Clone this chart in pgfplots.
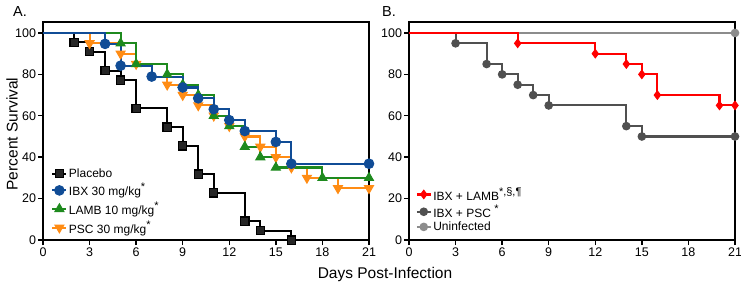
\documentclass[border=0pt]{standalone}
\usepackage{pgfplots}
\pgfplotsset{compat=1.18}
\usepackage{fontspec}
\setmainfont{Liberation Sans}
\definecolor{cblue}{RGB}{16,76,150}
\definecolor{cgreen}{RGB}{30,138,30}
\definecolor{corange}{RGB}{255,140,20}
\definecolor{cred}{RGB}{255,0,0}
\definecolor{cdgray}{RGB}{80,80,80}
\definecolor{clgray}{RGB}{140,140,140}
\newcommand{\supmark}[1]{\raisebox{0.42em}{\fontsize{11bp}{11bp}\selectfont #1}}
\pgfplotsset{
  km/.style={
    scale only axis, width=326bp, height=218bp,
    xmin=0, xmax=21, ymin=0, ymax=105.3,
    xtick={0,3,...,21}, ytick={0,20,...,100},
    tick align=outside, major tick length=5bp,
    xtick pos=bottom, ytick pos=left,
    axis line style={line width=1.4bp},
    every tick/.style={black, line width=1.4bp},
    tick label style={font=\fontsize{12.5bp}{14bp}\selectfont},
    /pgf/number format/assume math mode=true,
    xticklabel style={yshift=1bp},
    yticklabel style={xshift=1.5bp},
    clip=false,
    legend style={draw=none, fill=none, font=\fontsize{12bp}{14bp}\selectfont,
      row sep=0bp, inner sep=0pt, nodes={inner sep=1.5bp}},
    legend cell align=left,
    legend image code/.code={\draw[#1, mark repeat=2, mark phase=2] plot coordinates {(0bp,0bp)(7bp,0bp)(14bp,0bp)};},
  },
  lw/.style={line width=2.1bp},
}
\begin{document}
\begin{tikzpicture}
\useasboundingbox (0,0) rectangle (741bp,-286bp);
\node[anchor=base west, font=\fontsize{14.5bp}{16bp}\selectfont, inner sep=0pt] at (13bp,-16bp) {A.};
\node[anchor=base west, font=\fontsize{14.5bp}{16bp}\selectfont, inner sep=0pt] at (382bp,-16bp) {B.};
\node[rotate=90, font=\fontsize{15.5bp}{17bp}\selectfont, inner sep=0pt] at (12bp,-134bp) {Percent Survival};
\node[font=\fontsize{15.5bp}{17bp}\selectfont, inner sep=0pt] at (385bp,-274bp) {Days Post-Infection};
% Panel A
\begin{axis}[km, at={(43bp,-240bp)}, anchor=south west,
  legend style={at={(0.025,0.335)}, anchor=north west, row sep=1.5bp}]
\addlegendimage{black, lw, mark=square*, mark size=4.1bp, mark options={fill=black!85, line width=1.2bp}}
\addlegendentry{Placebo}
\addlegendimage{cblue, lw, mark=*, mark size=4.8bp, mark options={fill=cblue, line width=1bp}}
\addlegendentry{IBX 30 mg/kg\supmark{*}}
\addlegendimage{cgreen, lw, mark=triangle*, mark size=5.2bp, mark options={fill=cgreen, line width=1bp}}
\addlegendentry{LAMB 10 mg/kg\supmark{*}}
\addlegendimage{corange, lw, mark=triangle*, mark size=5.2bp, mark options={fill=corange, rotate=180, line width=1bp}}
\addlegendentry{PSC 30 mg/kg\supmark{*}}
\addplot[forget plot, const plot, black, lw, mark=square*, mark size=4.1bp, mark options={fill=black!85, line width=1.2bp},
  mark indices={2,3,4,5,6,7,8,9,10,11,12,13}] coordinates {
  (0,100)(2,95.45)(3,90.91)(4,81.82)(5,77.27)(6,63.64)(8,54.55)(9,45.45)(10,31.82)(11,22.73)(13,9.09)(14,4.55)(16,0)};
\addplot[forget plot, const plot, corange, lw, mark=triangle*, mark size=5.2bp, mark options={fill=corange, rotate=180, line width=1bp},
  mark indices={2,3,4,5,6,7,8,9,10,11,12,13,14,15,16}] coordinates {
  (0,100)(3,95)(5,90)(6,85)(8,75)(9,70)(10,65)(11,60)(12,55)(13,50)(14,45)(15,40)(16,35)(17,30)(19,25)(21,25)};
\addplot[forget plot, const plot, cgreen, lw, mark=triangle*, mark size=5.2bp, mark options={fill=cgreen, line width=1bp},
  mark indices={2,3,4,5,6,7,8,9,10,11,12,13}] coordinates {
  (0,100)(5,95)(6,85)(8,80)(9,75)(10,70)(11,60)(12,55)(13,45)(14,40)(15,35)(18,30)(21,30)};
\addplot[forget plot, const plot, cblue, lw, mark=*, mark size=4.8bp, mark options={fill=cblue, line width=1bp},
  mark indices={2,3,4,5,6,7,8,9,10,11,12}] coordinates {
  (0,100)(4,94.74)(5,84.21)(7,78.95)(9,73.68)(10,68.42)(11,63.16)(12,57.89)(13,52.63)(15,47.37)(16,36.84)(21,36.84)};
\end{axis}
% Panel B
\begin{axis}[km, at={(409bp,-240bp)}, anchor=south west,
  legend style={at={(0.02,0.25)}, anchor=north west}]
\addlegendimage{cred, lw, mark=diamond*, mark size=4.2bp, mark options={fill=cred, line width=1bp}}
\addlegendentry{IBX + LAMB\supmark{*,§,¶}}
\addlegendimage{cdgray, lw, mark=*, mark size=3.8bp, mark options={fill=cdgray, line width=1bp}}
\addlegendentry{IBX + PSC \supmark{*}}
\addlegendimage{clgray, lw, mark=*, mark size=3.8bp, mark options={fill=clgray, line width=1bp}}
\addlegendentry{Uninfected}
\addplot[forget plot, const plot, clgray, lw, mark=*, mark size=3.8bp, mark options={fill=clgray, line width=1bp},
  mark indices={2}] coordinates {(0,100)(21,100)};
\addplot[forget plot, const plot, cdgray, lw, mark=*, mark size=3.8bp, mark options={fill=cdgray, line width=1bp},
  mark indices={2,3,4,5,6,7,8,9,10}] coordinates {
  (0,100)(3,95)(5,85)(6,80)(7,75)(8,70)(9,65)(14,55)(15,50)(21,50)};
\addplot[forget plot, const plot, cred, lw, mark=diamond*, mark size=4.2bp, mark options={fill=cred, line width=1bp},
  mark indices={2,3,4,5,6,7,8}] coordinates {
  (0,100)(7,95)(12,90)(14,85)(15,80)(16,70)(20,65)(21,65)};
\end{axis}
\end{tikzpicture}
\end{document}
